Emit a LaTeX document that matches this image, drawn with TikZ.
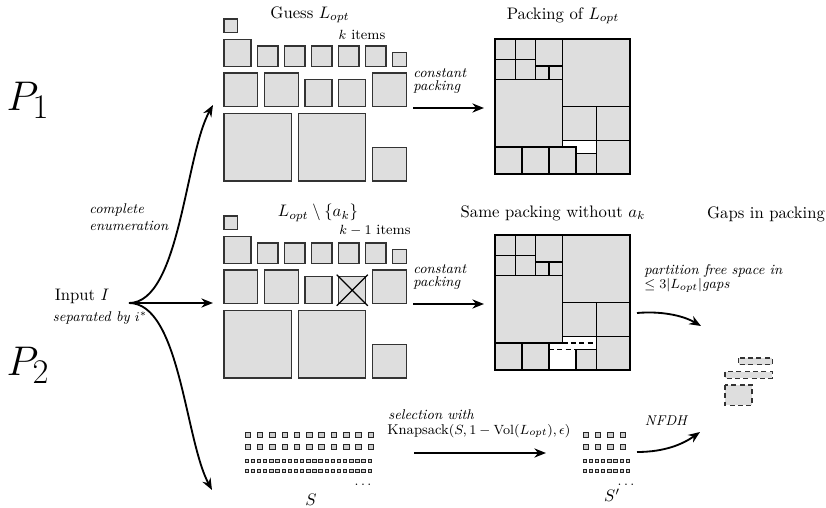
\documentclass[tikz,border=0pt]{standalone}
\usetikzlibrary{arrows.meta}
\begin{document}
\begin{tikzpicture}[x=0.6pt,y=-0.6pt]
        \tikzset{item/.style={fill=black!13,draw=black!80,line width=0.8pt},
            box/.style={fill=black!13,draw=black,line width=0.7pt},
            gap/.style={fill=black!13,draw=black!80,line width=0.7pt,dash pattern=on 3pt off 2pt},
            mini/.style={fill=black!20,draw=black!85,line width=0.45pt},
            flow/.style={-{Stealth[length=7pt,width=5.5pt]},line width=1.1pt},
            lbl/.style={font=\fontsize{8.5}{8}\selectfont\itshape,align=left,inner sep=0pt},
            small/.style={font=\fontsize{8.5}{10}\selectfont,inner sep=0pt},
            title/.style={inner sep=0pt}}
        \useasboundingbox (0,0) rectangle (826,508);
        \node[title] (p1) at (28,100) {\Huge $P_1$};
        \node[title] (p2) at (28,365) {\Huge $P_2$};
        \node[title] (input) at (82,296) {Input $I$};
        \node[lbl] (sep) at (100,318) {separated by $i^*$};
        \node[lbl,anchor=west] (enum) at (89,217) {complete\\[2pt]enumeration};
        \node[title] (guess) at (310,15) {Guess $L_{opt}$};
        \node[small] (kit) at (362,35) {$k$ items};
        \node[title] (pack) at (563,16) {Packing of $L_{opt}$};
        \node[title] (lopt) at (318,213) {$L_{opt}\setminus\{a_k\}$};
        \node[small] (k1it) at (375,231) {$k-1$ items};
        \node[title] (same) at (553,213) {Same packing without $a_k$};
        \node[title] (gapt) at (766,214) {Gaps in packing};
        \node[lbl,anchor=west] (cp1) at (413,81) {constant\\packing};
        \node[lbl,anchor=west] (cp2) at (413,277) {constant\\packing};
        \node[lbl,anchor=west] (part) at (644,271) {partition free space in};
        \node[lbl,anchor=west] (part2) at (644,285.5) {$\leq 3|L_{opt}|$gaps};
        \node[lbl,anchor=west] (sel) at (388,415) {selection with};
        \node[small,anchor=west] (knap) at (387,431) {Knapsack$(S,1-\mathrm{Vol}(L_{opt}),\epsilon)$};
        \node[lbl] (nfdh) at (666,421) {NFDH};
        \node[title] (s) at (311,500) {$S$};
        \node[title] (s2) at (612,495) {$S'$};
        \node[small] (d1) at (363,485) {$\dots$};
        \node[small] (d2) at (626,485) {$\dots$};
        % item sets
        \foreach \dy/\nm in {0/top,197/mid} {
            \begin{scope}[shift={(224,19+\dy)},x=4.05pt,y=-4.05pt]
                \foreach \a/\b/\s in {0/0/2,0/3/4,5/4/3,9/4/3,13/4/3,17/4/3,21/4/3,25/5/2,
                    0/8/5,6/8/5,12/9/4,17/9/4,22/8/5,0/14/10,11/14/10,22/19/5}
                    \draw[item] (\a,\b) rectangle ++(\s,\s);
            \end{scope}
        }
        \begin{scope}[shift={(224,216)},x=4.05pt,y=-4.05pt]
            \draw[line width=0.8pt] (16.7,8.7) -- (21.3,13.3) (16.7,13.3) -- (21.3,8.7);
        \end{scope}
        % packings
        \foreach \dy in {0,196} {
            \begin{scope}[shift={(495,39+\dy)},x=4.05pt,y=-4.05pt]
                \foreach \a/\b/\s in {0/0/3,3/0/3,0/3/3,3/3/3,6/0/4,6/4/2,8/4/2,0/6/10,
                    10/0/10,10/10/5,15/10/5,15/15/5,0/16/4,4/16/4,12/17/3}
                    \draw[box] (\a,\b) rectangle ++(\s,\s);
            \end{scope}
        }
        \begin{scope}[shift={(495,39)},x=4.05pt,y=-4.05pt]
            \draw[box] (8,16) rectangle ++(4,4);
            \draw[line width=1.4pt] (0,0) rectangle (20,20);
        \end{scope}
        \begin{scope}[shift={(495,235)},x=4.05pt,y=-4.05pt]
            \draw[line width=0.7pt,dash pattern=on 3pt off 2pt] (10,16) -- (15,16) (8,17) -- (12,17);
            \draw[line width=0.7pt] (8,17) -- (8,20) (12,17) -- (15,17);
            \draw[line width=1.4pt] (0,0) rectangle (20,20);
        \end{scope}
        % gaps
        \begin{scope}[shift={(725,358)},x=4.05pt,y=-4.05pt]
            \draw[gap] (2,0) rectangle (7,1);
            \draw[gap] (0,2) rectangle (7,3);
            \draw[gap] (0,4) rectangle (4,7);
        \end{scope}
        % small items
        \foreach \x/\n/\m in {245/10/20,583/3/7} {
            \foreach \i in {0,...,\n} {
                \draw[mini] (\x+\i*12.3,432) rectangle ++(5.5,5.5);
                \draw[mini] (\x+\i*12.3,444) rectangle ++(5.5,5.5);
            }
            \foreach \i in {0,...,\m}  {
                \draw[mini] (\x+\i*6.15,459) rectangle ++(3.4,3.4);
                \draw[mini] (\x+\i*6.15,469) rectangle ++(3.4,3.4);
            }
        }
        % arrows
        \coordinate (split) at (129,303);
        \coordinate (toP1) at (213,105);
        \coordinate (toP2) at (213,303);
        \coordinate (toS) at (212,490);
        \coordinate (c1s) at (413,108);
        \coordinate (c1e) at (484,108);
        \coordinate (c2s) at (413,304);
        \coordinate (c2e) at (484,304);
        \coordinate (gs) at (637,313);
        \coordinate (ge) at (701,326);
        \coordinate (ks) at (414,453);
        \coordinate (ke) at (546,453);
        \coordinate (ns) at (637,452);
        \coordinate (ne) at (700,432);
        \draw[flow] (split) .. controls (180,303) and (185,155) .. (toP1);
        \draw[flow] (split) -- (toP2);
        \draw[flow] (split) .. controls (180,303) and (185,440) .. (toS);
        \draw[flow] (c1s) -- (c1e);
        \draw[flow] (c2s) -- (c2e);
        \draw[flow] (gs) .. controls (660,311) and (682,315) .. (ge);
        \draw[flow] (ks) -- (ke);
        \draw[flow] (ns) .. controls (665,452) and (683,444) .. (ne);
\end{tikzpicture}
\end{document}
